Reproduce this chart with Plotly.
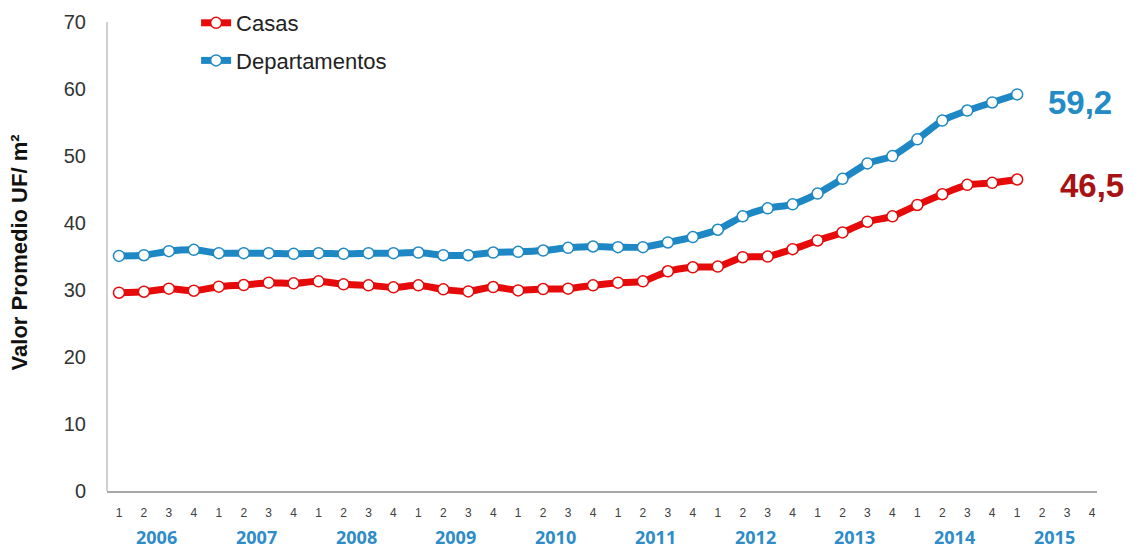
import plotly.graph_objects as go

# Quarterly periods 2006-2015
years = [2006, 2007, 2008, 2009, 2010, 2011, 2012, 2013, 2014, 2015]
quarters = ["1", "2", "3", "4"]

# Average value (UF per m²) from 2006 Q1 to 2015 Q1
casas = [29.6, 29.75, 30.2, 29.9,
         30.5, 30.75, 31.1, 31.0,
         31.3, 30.85, 30.7, 30.4,
         30.7, 30.1, 29.8, 30.45,
         29.95, 30.15, 30.2, 30.7,
         31.1, 31.3, 32.8, 33.4,
         33.5, 34.9, 35.0, 36.1,
         37.4, 38.6, 40.2, 41.0,
         42.7, 44.3, 45.7, 46.0,
         46.5]
departamentos = [35.1, 35.2, 35.8, 36.0,
                 35.5, 35.5, 35.5, 35.4,
                 35.5, 35.4, 35.5, 35.5,
                 35.6, 35.2, 35.2, 35.6,
                 35.7, 35.9, 36.3, 36.5,
                 36.4, 36.4, 37.1, 37.9,
                 39.0, 41.0, 42.2, 42.8,
                 44.4, 46.6, 48.9, 50.0,
                 52.5, 55.3, 56.8, 58.0,
                 59.2]
last_labels = ["46,5", "59,2"]
y_ticks = [0, 10, 20, 30, 40, 50, 60, 70]

RED = "#E60A0A"
BLUE = "#1E88C4"

n_slots = len(years) * len(quarters)
tick_pos = list(range(n_slots))
tick_txt = [q for _ in years for q in quarters]

fig = go.Figure()
for name, vals, col, grp in [("Casas", casas, RED, "a"),
                             ("Departamentos", departamentos, BLUE, "b")]:
    fig.add_trace(go.Scatter(
        x=list(range(len(vals))), y=vals, name=name, mode="lines+markers",
        legendgroup=grp,
        line=dict(color=col, width=7, shape="spline", smoothing=0.6),
        marker=dict(size=11, color="white", line=dict(color=col, width=1.5)),
    ))

# Vertical axis line, drawn only up to the top tick
fig.add_shape(type="line", xref="paper", yref="y", x0=0, x1=0,
              y0=y_ticks[0], y1=y_ticks[-1], line=dict(color="#A0A0A0", width=1))

# End-of-series value labels
fig.add_annotation(x=len(departamentos) - 1, y=departamentos[-1], text=last_labels[1],
                   showarrow=False, xanchor="left", yanchor="middle", xshift=29, yshift=-8,
                   font=dict(family="Arial", size=33, color="#238BC6", weight="bold"))
fig.add_annotation(x=len(casas) - 1, y=casas[-1], text=last_labels[0],
                   showarrow=False, xanchor="left", yanchor="middle", xshift=41, yshift=-6,
                   font=dict(family="Arial", size=33, color="#A81212", weight="bold"))

# Year labels under each group of quarters
for i, yr in enumerate(years):
    fig.add_annotation(x=i * 4 + 1.5, y=0, xref="x", yref="paper", text=str(yr),
                       showarrow=False, xanchor="center", yanchor="middle", yshift=-46,
                       font=dict(family="Open Sans", size=18, color="#2E8CC8", weight="bold"))

# Y-axis title
fig.add_annotation(x=-0.088, y=35.6, xref="paper", yref="y",
                   text="Valor Promedio UF/ m²", textangle=-90, showarrow=False,
                   xanchor="center", yanchor="middle",
                   font=dict(family="Arial", size=22, color="#111111", weight="bold"))

fig.update_layout(
    width=1143, height=552,
    margin=dict(l=107, r=46, t=2, b=61),
    plot_bgcolor="white", paper_bgcolor="white",
    font=dict(family="Arial", color="#333333"),
    showlegend=True,
    legend=dict(x=0.09, y=1.0, xanchor="left", yanchor="top",
                traceorder="grouped", tracegroupgap=6,
                font=dict(family="Arial", size=22, color="#222222"),
                bgcolor="rgba(0,0,0,0)"),
)
fig.update_xaxes(range=[-0.48, 39.2], tickvals=tick_pos, ticktext=tick_txt,
                 showgrid=False, zeroline=False, showline=True,
                 linecolor="#A8A8A8", linewidth=2,
                 ticks="outside", ticklen=10, tickcolor="rgba(0,0,0,0)",
                 tickfont=dict(family="Arial", size=12, color="#404040"))
fig.update_yaxes(range=[0, 73], tickvals=y_ticks, showgrid=False, zeroline=False,
                 showline=False,
                 ticks="outside", ticklen=16, tickcolor="rgba(0,0,0,0)",
                 tickfont=dict(family="Arial", size=20, color="#333333"))

fig.write_html("out.html")
